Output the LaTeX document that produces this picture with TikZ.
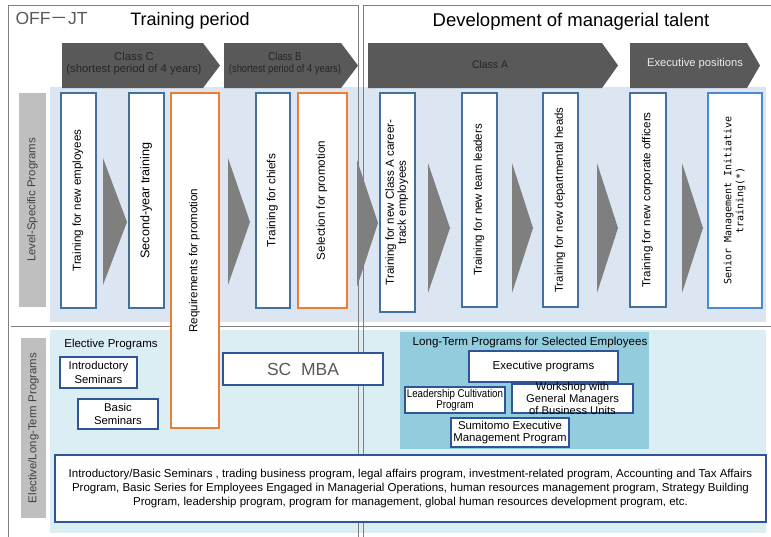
\documentclass[tikz,border=0pt]{standalone}
\usepackage{fontspec}
\usepackage{graphicx}
\setmainfont{Liberation Sans}
\newfontfamily\cjk{Noto Sans CJK JP}
\newfontfamily\monof{DejaVu Sans Mono}
\definecolor{darkarrow}{HTML}{595959}
\definecolor{trigray}{HTML}{7F7F7F}
\definecolor{bandtop}{HTML}{DCE6F2}
\definecolor{bandbot}{HTML}{DAEEF3}
\definecolor{teal}{HTML}{93CDDD}
\definecolor{boxblue}{HTML}{41719C}
\definecolor{boxdeep}{HTML}{2F5597}
\definecolor{brightblue}{HTML}{4A8AD4}
\definecolor{orng}{HTML}{ED7D31}
\definecolor{labgray}{HTML}{BFBFBF}
\definecolor{framegray}{HTML}{7F7F7F}
\definecolor{txtgray}{HTML}{404040}
\newcommand{\fsz}[2]{\fontsize{#1}{#2}\selectfont}
\newcommand{\rtxt}[1]{\rotatebox{90}{\begin{tabular}{@{}c@{}}#1\end{tabular}}}
\begin{document}
\begin{tikzpicture}[x=1pt,y=-1pt,
  bluebox/.style={draw=boxblue,line width=1.5pt,fill=white,inner sep=0pt},
  orangebox/.style={draw=orng,line width=1.5pt,fill=white,inner sep=0pt},
  deepbox/.style={draw=boxdeep,line width=1.8pt,fill=white,inner sep=0pt,align=center},
  graylabel/.style={fill=labgray,inner sep=0pt,text=txtgray},
  tri/.style={fill=trigray},
  penta/.style={fill=darkarrow},
  frame/.style={draw=framegray,line width=0.9pt}
]
\useasboundingbox (0,0) rectangle (771,536);
% bands
\fill[bandtop] (50,87) rectangle (766,322);
\fill[bandbot] (50,330) rectangle (766,533);
\fill[teal] (400,332) rectangle (649,449);
% frames
\draw[frame] (8,540) -- (8,5) -- (358,5) -- (358,540);
\draw[frame] (363,540) -- (363,5) -- (775,5);
\draw[frame] (11,326) -- (771,326);
% titles
\node[anchor=west,text=darkarrow,font=\fsz{17.5}{20}] (offjt) at (12,18) {OFF{\cjk －}JT};
\node[font=\fsz{18}{21}] (tperiod) at (190,21) {Training period};
\node[font=\fsz{18.5}{21}] (dev) at (571,22) {Development of managerial talent};
% pentagon arrows
\fill[penta] (62,43) -- (203,43) -- (220,65.5) -- (203,88) -- (62,88) -- cycle;
\node[text=black!85,font=\fsz{11.3}{12},align=center] (classC) at (134,64) {Class C\\(shortest period of 4 years)};
\fill[penta] (224,43) -- (341,43) -- (358,65.5) -- (341,88) -- (224,88) -- cycle;
\node[text=black!85,font=\fsz{11.3}{12},align=center] (classB) at (285,64) {\scalebox{0.85}[1]{Class B}\\\scalebox{0.83}[1]{(shortest period of 4 years)}};
\fill[penta] (368,43) -- (602,43) -- (618,65.5) -- (602,88) -- (368,88) -- cycle;
\node[text=black!85,font=\fsz{11}{12}] (classA) at (490,65) {\scalebox{0.95}[1]{Class A}};
\fill[penta] (630,43) -- (747,43) -- (760,65.5) -- (747,88) -- (630,88) -- cycle;
\node[text=white!85!gray,font=\fsz{11.2}{12}] (execpos) at (695,64) {Executive positions};
% gray labels
\node[graylabel,minimum width=27pt,minimum height=214pt] (lsp) at (32.5,200) {\rotatebox{90}{\fsz{11.4}{12}Level-Specific Programs}};
\node[graylabel,minimum width=25pt,minimum height=180pt] (elt) at (33.5,428) {\rotatebox{90}{\fsz{11.4}{12}Elective/Long-Term Programs}};
% level-specific boxes
\node[bluebox,minimum width=35pt,minimum height=215pt] (b1) at (78.5,200.5) {\rtxt{\fsz{11.6}{13}Training for new employees}};
\node[bluebox,minimum width=35pt,minimum height=215pt] (b2) at (146.5,200.5) {\rtxt{\fsz{12.6}{13}Second-year training}};
\node[orangebox,minimum width=48pt,minimum height=335pt] (req) at (195,260.5) {\rtxt{\fsz{11.6}{13}Requirements for promotion}};
\node[bluebox,minimum width=34pt,minimum height=215pt] (chief) at (273,200.5) {\rtxt{\fsz{11.8}{13}Training for chiefs}};
\node[orangebox,minimum width=49pt,minimum height=215pt] (sel) at (322.5,200.5) {\rtxt{\fsz{11.6}{13}Selection for promotion}};
\node[bluebox,minimum width=35pt,minimum height=219pt] (ca) at (397.5,202.5) {\rtxt{\fsz{11.6}{12.5}Training for new Class A career-\\\fsz{11.6}{12.5}track employees}};
\node[bluebox,minimum width=35pt,minimum height=214pt] (team) at (479.5,200) {\rtxt{\fsz{11.5}{13}Training for new team leaders}};
\node[bluebox,minimum width=35pt,minimum height=214pt] (dept) at (560.5,200) {\rtxt{\fsz{11.4}{13}Training for new departmental heads}};
\node[bluebox,minimum width=36pt,minimum height=214pt] (offi) at (648,200) {\rtxt{\fsz{11.6}{13}Training for new corporate officers}};
\node[draw=brightblue,line width=2pt,fill=white,inner sep=0pt,minimum width=54pt,minimum height=215pt] (senior) at (735,200.5) {\rtxt{\monof\fsz{10}{12}Senior Management Initiative\\\monof\fsz{10}{12}training(*)}};
% triangles
\fill[tri] (103,158) -- (127,222) -- (103,285) -- cycle;
\fill[tri] (228,158) -- (250,222) -- (228,285) -- cycle;
\fill[tri] (357,160) -- (378,223) -- (357,287) -- cycle;
\fill[tri] (428,163) -- (450,228) -- (428,293) -- cycle;
\fill[tri] (512,163) -- (533,228) -- (512,293) -- cycle;
\fill[tri] (597,163) -- (618,228) -- (597,293) -- cycle;
\fill[tri] (682,163) -- (703,228) -- (682,293) -- cycle;
% elective section
\node[font=\fsz{11.5}{13}] (elect) at (111,345) {Elective Programs};
\node[deepbox,font=\fsz{11.3}{13.5},minimum width=77pt,minimum height=31pt] (intro) at (98.5,372.5) {Introductory\\Seminars};
\node[deepbox,font=\fsz{11.3}{13.5},minimum width=80pt,minimum height=30pt] (basic) at (118,414) {Basic\\Seminars};
\node[deepbox,font=\fsz{17.5}{19},text=darkarrow,minimum width=160pt,minimum height=32pt] (mba) at (303,369) {SC\ \ MBA};
\node[font=\fsz{11.6}{13}] (ltp) at (530,342) {Long-Term Programs for Selected Employees};
\node[deepbox,font=\fsz{11.5}{13},minimum width=149pt,minimum height=31pt] (exprog) at (543.5,366.5) {Executive programs};
\node[deepbox,font=\fsz{11.3}{11.5},minimum width=100pt,minimum height=26pt] (lead) at (455,400) {\scalebox{0.86}[1]{Leadership Cultivation}\\\scalebox{0.86}[1]{Program}};
\node[deepbox,minimum width=121pt,minimum height=29pt] (wsbox) at (572.5,398.5) {};
\node[font=\fsz{11.2}{12},align=center] (ws) at (572.5,398.5) {Workshop with\\General Managers\\of Business Units};
\node[deepbox,font=\fsz{11.4}{12.5},minimum width=118pt,minimum height=29pt] (sumi) at (510,432.5) {Sumitomo Executive\\Management Program};
\node[deepbox,font=\fsz{11.5}{14},minimum width=711pt,minimum height=67pt] (big) at (410.5,488.5) {Introductory/Basic Seminars , trading business program, legal affairs program, investment-related program, Accounting and Tax Affairs\\Program, Basic Series for Employees Engaged in Managerial Operations, human resources management program, Strategy Building\\Program, leadership program, program for management, global human resources development program, etc.};
\end{tikzpicture}
\end{document}
